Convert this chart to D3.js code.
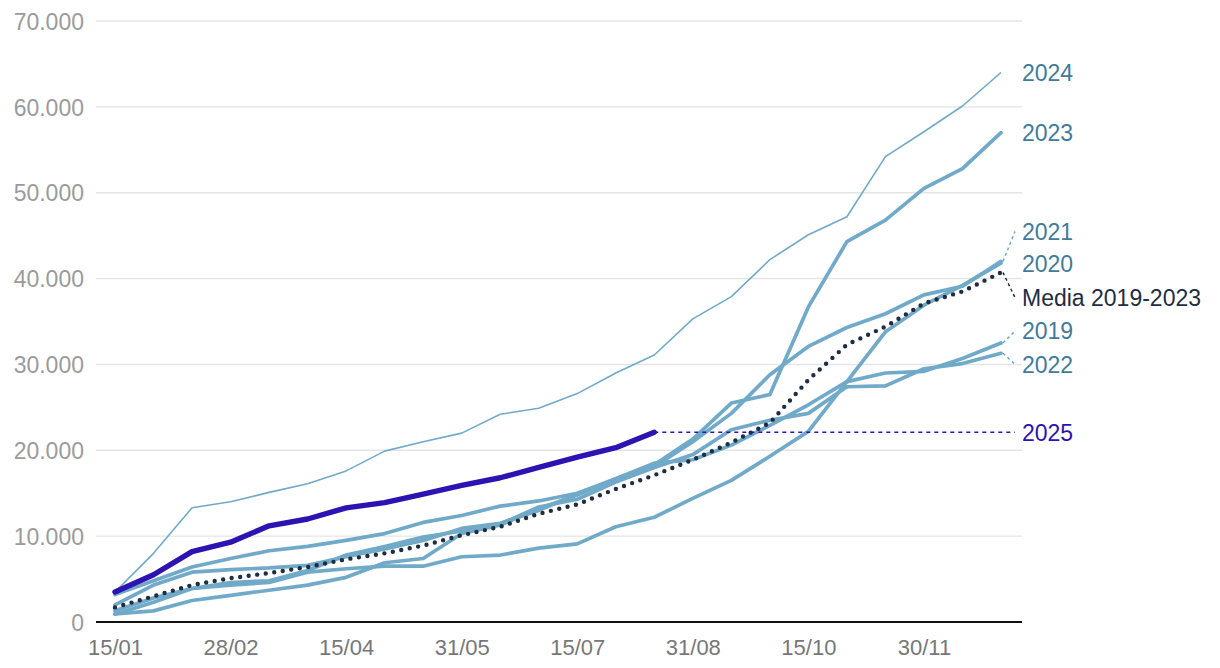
<!DOCTYPE html>
<html>
<head>
<meta charset="utf-8">
<script src="https://cdn.jsdelivr.net/npm/d3@7"></script>
<style>
  html, body { margin: 0; padding: 0; background: #fff; }
  svg { display: block; font-family: "Liberation Sans", Arial, Helvetica, sans-serif; }
</style>
</head>
<body>
<svg id="chart" width="1220" height="668"></svg>
<script>
// ---- data ----
const dates = ["15/01","31/01","15/02","28/02","15/03","31/03","15/04","30/04","15/05","31/05","15/06","30/06",
               "15/07","31/07","15/08","31/08","15/09","30/09","15/10","31/10","15/11","30/11","15/12","31/12"];
const tickDates = ["15/01","28/02","15/04","31/05","15/07","31/08","15/10","30/11"];
const yTicks = [0, 10000, 20000, 30000, 40000, 50000, 60000, 70000];

const v2019 = [950, 1300, 2500, 3100, 3700, 4300, 5200, 6900, 7400, 10300, 11300, 13200, 14800, 16700, 18500, 18900, 20600, 22900, 25300, 28000, 29000, 29200, 30700, 32500];
const v2020 = [900, 2300, 3900, 4300, 4600, 5800, 6200, 6500, 6500, 7600, 7800, 8600, 9100, 11100, 12200, 14400, 16500, 19300, 22200, 28000, 33800, 36900, 39200, 41800];
const v2021 = [2000, 4300, 5800, 6100, 6300, 6600, 7600, 8500, 9500, 10900, 11500, 13000, 14900, 16500, 18100, 21000, 24300, 28800, 32100, 34300, 35900, 38100, 39100, 42000];
const v2022 = [1300, 2800, 3900, 4600, 4800, 6000, 7800, 8800, 9900, 10600, 11400, 13400, 14300, 16300, 18000, 19500, 22400, 23500, 24300, 27400, 27500, 29500, 30100, 31300];
const v2023 = [3200, 4800, 6400, 7400, 8300, 8800, 9500, 10300, 11600, 12400, 13500, 14100, 15000, 16700, 18300, 21300, 25500, 26500, 36700, 44300, 46800, 50500, 52800, 57000];
const v2024 = [3500, 8000, 13300, 14000, 15100, 16100, 17600, 19900, 21000, 22000, 24200, 24900, 26600, 29000, 31100, 35300, 37900, 42200, 45100, 47200, 54200, 57100, 60100, 64000];
const v2025 = [3500, 5500, 8200, 9300, 11200, 12000, 13300, 13900, 14900, 15900, 16800, 18000, 19200, 20300, 22100];
const vMedia = [1700, 3000, 4300, 5100, 5700, 6400, 7300, 8000, 8900, 10100, 11100, 12600, 13700, 15500, 17100, 18900, 20900, 23200, 28200, 32300, 34400, 37100, 38500, 40700];

// ---- layout ----
const gridX0 = 96, gridX1 = 1022;
const svg = d3.select("#chart");

const x = d3.scalePoint().domain(dates).range([115, 1001]);
const y = d3.scaleLinear().domain([0, 70000]).range([622, 21]);
const fmt = v => d3.format(",")(v).replace(/,/g, ".");

const cLight = "#71aac9", cLabel = "#3f7b9b", cDark = "#1f2d42", cPurple = "#2d13b1";

// grid
svg.append("g").selectAll("line").data(yTicks.filter(t => t > 0)).join("line")
  .attr("x1", gridX0).attr("x2", gridX1)
  .attr("y1", d => y(d)).attr("y2", d => y(d))
  .attr("stroke", "#e5e5e5").attr("stroke-width", 1.4);

// y axis labels
const yAxis = d3.axisLeft(y).tickValues(yTicks).tickFormat(fmt).tickSize(0).tickPadding(0);
const gy = svg.append("g").attr("transform", "translate(84,0)").call(yAxis);
gy.select(".domain").remove();
gy.selectAll("text").attr("fill", "#9b9b9b").style("font-size", "23px")
  .attr("font-family", "'Liberation Sans', Arial, sans-serif").attr("dy", "0.36em");

// x axis
const xAxis = d3.axisBottom(x).tickValues(tickDates).tickSize(0).tickPadding(0);
const gx = svg.append("g").attr("transform", "translate(0,622)").call(xAxis);
gx.select(".domain").remove();
gx.selectAll("text").attr("fill", "#777").style("font-size", "22px")
  .attr("font-family", "'Liberation Sans', Arial, sans-serif").attr("dy", "1.52em");
svg.append("line").attr("x1", gridX0).attr("x2", gridX1).attr("y1", y(0)).attr("y2", y(0))
  .attr("stroke", "#111").attr("stroke-width", 2);

const line = d3.line().x((d, i) => x(dates[i])).y(d => y(d));

const light = [v2019, v2020, v2021, v2022, v2023];
svg.append("g").selectAll("path").data(light).join("path")
  .attr("d", d => line(d)).attr("fill", "none").attr("stroke", cLight)
  .attr("stroke-width", 3.7).attr("stroke-linejoin", "round").attr("stroke-linecap", "round");

svg.append("path").attr("d", line(v2024)).attr("fill", "none").attr("stroke", cLight)
  .attr("stroke-width", 1.6).attr("stroke-linejoin", "round");

svg.append("path").attr("d", line(vMedia)).attr("fill", "none").attr("stroke", cDark)
  .attr("stroke-width", 4.4).attr("stroke-linecap", "round").attr("stroke-dasharray", "0,8.6");

// 2025 extension dashed
const last25 = v2025.length - 1;
svg.append("line").attr("x1", x(dates[last25])).attr("x2", 1015)
  .attr("y1", y(v2025[last25])).attr("y2", y(v2025[last25]))
  .attr("stroke", cPurple).attr("stroke-width", 1.6).attr("stroke-dasharray", "4,4");

svg.append("path").attr("d", line(v2025)).attr("fill", "none").attr("stroke", cPurple)
  .attr("stroke-width", 5.4).attr("stroke-linejoin", "round").attr("stroke-linecap", "round");

// end labels
const labels = [
  { name: "2024", data: v2024, color: cLabel, line: cLight, dy: 0 },
  { name: "2023", data: v2023, color: cLabel, line: cLight, dy: 0 },
  { name: "2021", data: v2021, color: cLabel, line: cLight, dy: -30 },
  { name: "2020", data: v2020, color: cLabel, line: cLight, dy: 1 },
  { name: "Media 2019-2023", data: vMedia, color: cDark, line: cDark, dy: 25 },
  { name: "2019", data: v2019, color: cLabel, line: cLight, dy: -12 },
  { name: "2022", data: v2022, color: cLabel, line: cLight, dy: 11 },
  { name: "2025", data: v2025, color: cPurple, line: cPurple, dy: 0 }
];
const lx = 1022;
labels.forEach(l => {
  const yv = y(l.data[l.data.length - 1]);
  const ly = yv + l.dy;
  if (Math.abs(l.dy) > 3) {
    svg.append("line").attr("x1", 1003).attr("y1", yv).attr("x2", 1015).attr("y2", ly)
      .attr("stroke", l.line).attr("stroke-width", 1.5).attr("stroke-dasharray", "3,3");
  }
  svg.append("text").attr("x", lx).attr("y", ly).attr("dy", "0.36em")
    .attr("fill", l.color).style("font-size", "23px").text(l.name);
});
</script>
</body>
</html>
